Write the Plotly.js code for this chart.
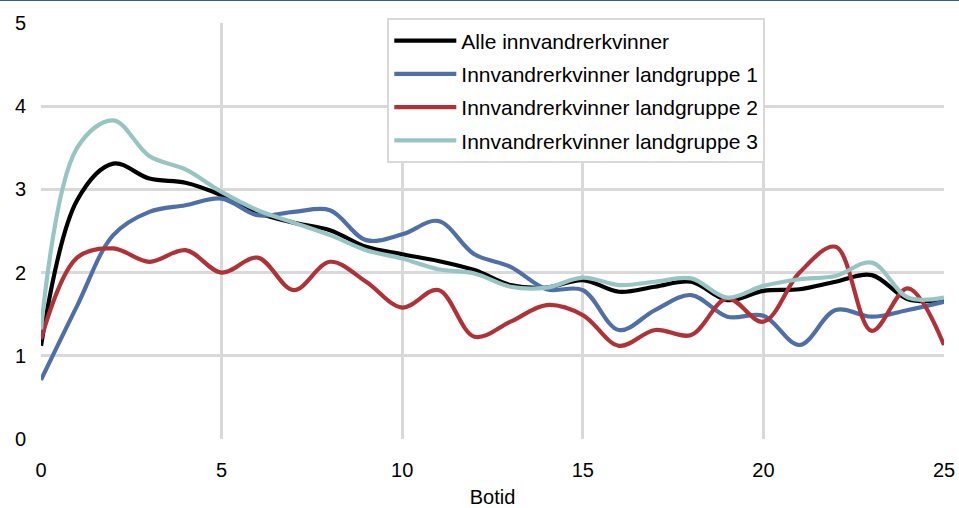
<!DOCTYPE html>
<html>
<head>
<meta charset="utf-8">
<script src="https://cdn.plot.ly/plotly-3.0.1.min.js"></script>
<style>html,body{margin:0;padding:0;background:#fff;}#chart{width:959px;height:508px;}</style>
</head>
<body>
<div id="chart"></div>
<script>
var botid = [0,1,2,3,4,5,6,7,8,9,10,11,12,13,14,15,16,17,18,19,20,21,22,23,24,25];
var alle = [1.12,2.87,3.31,3.13,3.08,2.93,2.72,2.60,2.51,2.31,2.22,2.14,2.03,1.85,1.82,1.91,1.77,1.83,1.89,1.67,1.78,1.80,1.89,1.97,1.68,1.67];
var gruppe1 = [0.71,1.60,2.45,2.73,2.81,2.89,2.69,2.73,2.75,2.39,2.46,2.62,2.22,2.07,1.80,1.79,1.31,1.55,1.73,1.47,1.48,1.13,1.55,1.47,1.55,1.65];
var gruppe2 = [1.20,2.18,2.29,2.13,2.27,2.00,2.18,1.79,2.13,1.89,1.58,1.79,1.23,1.41,1.61,1.49,1.12,1.31,1.25,1.69,1.41,2.00,2.31,1.30,1.81,1.13];
var gruppe3 = [1.32,3.50,3.83,3.40,3.24,2.97,2.75,2.60,2.45,2.27,2.17,2.04,1.99,1.83,1.82,1.94,1.85,1.89,1.93,1.70,1.84,1.92,1.96,2.12,1.70,1.70];
var names = ["Alle innvandrerkvinner","Innvandrerkvinner landgruppe 1","Innvandrerkvinner landgruppe 2","Innvandrerkvinner landgruppe 3"];
var colors = ["#000000","#4f6fa8","#b03237","#97c5c4"];
var xTicks = [0,5,10,15,20,25];
var yTicks = [0,1,2,3,4,5];

var series = [alle, gruppe1, gruppe2, gruppe3];
var traces = series.map(function(s, i){
  return {x: botid, y: s, name: names[i], type: 'scatter', mode: 'lines',
    legendgroup: 'g'+i,
    line: {color: colors[i], width: 4.2, shape: 'spline', smoothing: 1}};
});

var font = {family: '"Liberation Sans", Arial, sans-serif', size: 20, color: '#000'};
var legFont = {family: '"Liberation Sans", Arial, sans-serif', size: 21, color: '#000'};
var layout = {
  width: 959, height: 508,
  margin: {l: 41, r: 15, t: 23, b: 69},
  paper_bgcolor: '#fff', plot_bgcolor: '#fff',
  font: font,
  showlegend: true,
  legend: {x: 0.3835, y: 1.011, xanchor: 'left', yanchor: 'top', bgcolor: '#fff',
    bordercolor: '#d9d9d9', borderwidth: 2, font: legFont, tracegroupgap: 3,
    traceorder: 'grouped', itemwidth: 62},
  xaxis: {range: [0, 25], tickvals: xTicks, ticktext: xTicks.map(String),
    showgrid: true, gridcolor: '#d9d9d9', gridwidth: 3, zeroline: false,
    showline: false, ticks: '', ticklabelstandoff: 17,
    title: {text: 'Botid', font: font, standoff: 18}},
  yaxis: {range: [0, 5], tickvals: yTicks, ticktext: yTicks.map(String),
    showgrid: true, gridcolor: '#d9d9d9', gridwidth: 3, zeroline: false,
    showline: false, ticks: '', ticklabelstandoff: 14},
  shapes: [{type: 'line', xref: 'paper', yref: 'paper', x0: -0.05, x1: 1.02, y0: 1.055, y1: 1.055,
    line: {color: '#3b5b8f', width: 2}}]
};
Plotly.newPlot('chart', traces, layout, {displayModeBar: false, staticPlot: true});
</script>
</body>
</html>
